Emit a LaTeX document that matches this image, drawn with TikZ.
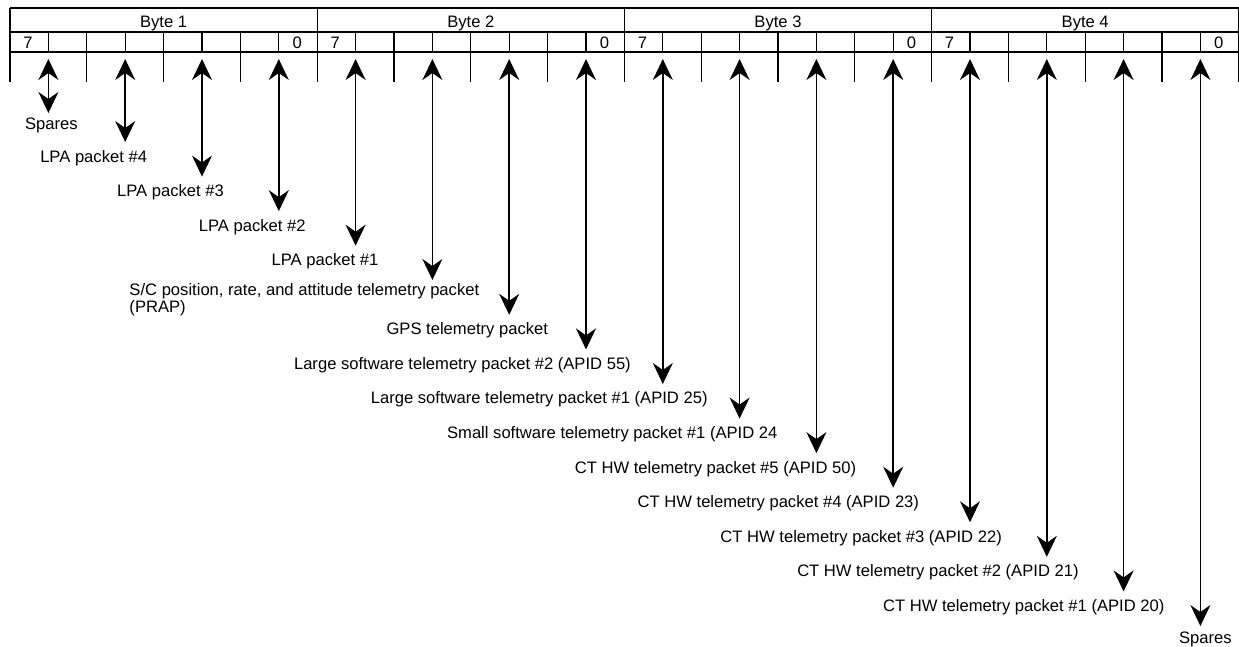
\documentclass[tikz,border=0pt]{standalone}
\usepackage{fontspec}
\setmainfont{Liberation Sans}
\usepackage{tikz}
\tikzset{
  frame/.style={line width=1.3pt, black},
  bitline/.style={line width=1.1pt, black},
  fieldarrow/.style={{Stealth[length=21pt, width=20pt, inset=7pt]}-{Stealth[length=21pt, width=20pt, inset=7pt]},
                     line width=1.5pt}
}
\usetikzlibrary{positioning, arrows.meta, calc}

\begin{document}
\begin{tikzpicture}[x=1pt, y=-1pt,
    txt/.style={font=\fontsize{16.6}{17}\selectfont, inner sep=0pt},
    fieldlabel/.style={txt, anchor=base east},
    sparelabel/.style={txt, anchor=base},
    bitno/.style={txt, anchor=base}
]
\useasboundingbox (0,0) rectangle (1239,646);
% header rows
\draw[frame] (10,8) -- (1239,8);
\draw[bitline] (10,32) -- (1239,32);
\draw[bitline] (10,52) -- (1239,52);
\foreach \k in {0,8,16,24,32}
    \draw[frame] ({10+38.4*\k},8) -- ({10+38.4*\k},82);
\foreach \k in {2,4,6,10,12,14,18,20,22,26,28,30}
    \draw[bitline] ({10+38.4*\k},32) -- ({10+38.4*\k},82);
\foreach \k in {1,3,...,31}
    \draw[bitline] ({10+38.4*\k},32) -- ({10+38.4*\k},52);
\foreach \b in {1,2,3,4} {
    \node[bitno] (byte\b) at ({10+307.2*(\b-0.5)},27) {Byte \b};
    \node[bitno] (hi\b) at ({10+307.2*(\b-1)+18},48) {7};
    \node[bitno] (lo\b) at ({10+307.2*\b-20},48) {0};
}
% spares at both ends
\coordinate (top0) at (48.4,59);
\coordinate (tip0) at (48.4,113);
\draw[fieldarrow] (top0) -- (tip0);
\node[sparelabel] (lab0) at ([shift={(3,16)}]tip0) {Spares};
\coordinate (top15) at (1200.4,59);
\coordinate (tip15) at (1200.4,626);
\draw[fieldarrow] (top15) -- (tip15);
\node[sparelabel] (lab15) at ([shift={(5,17)}]tip15) {Spares};
% packet fields
\foreach \i/\off/\txt in {
    1/22/LPA packet \#4,
    2/22/LPA packet \#3,
    3/27/LPA packet \#2,
    4/23/LPA packet \#1,
    6/39/GPS telemetry packet,
    7/45/Large software telemetry packet \#2 (APID 55),
    8/45/Large software telemetry packet \#1 (APID 25),
    9/38/Small software telemetry packet \#1 (APID 24,
    10/40/CT HW telemetry packet \#5 (APID 50),
    11/26/CT HW telemetry packet \#4 (APID 23),
    12/32/CT HW telemetry packet \#3 (APID 22),
    13/32/CT HW telemetry packet \#2 (APID 21),
    14/41/CT HW telemetry packet \#1 (APID 20)} {
    \coordinate (top\i) at ({10+38.4*(2*\i+1)},59);
    \coordinate (tip\i) at ({10+38.4*(2*\i+1)},{142+34.57*(\i-1)});
    \draw[fieldarrow] (top\i) -- (tip\i);
    \node[fieldlabel] (lab\i) at ([shift={(\off,20)}]tip\i) {\txt};
}
% two-line label
\coordinate (top5) at (432.4,59);
\coordinate (tip5) at (432.4,280);
\draw[fieldarrow] (top5) -- (tip5);
\node[txt, anchor=north east, align=left] (lab5) at ([shift={(47,3)}]tip5)
    {S/C position, rate, and attitude telemetry packet\\(PRAP)};
\end{tikzpicture}
\end{document}
